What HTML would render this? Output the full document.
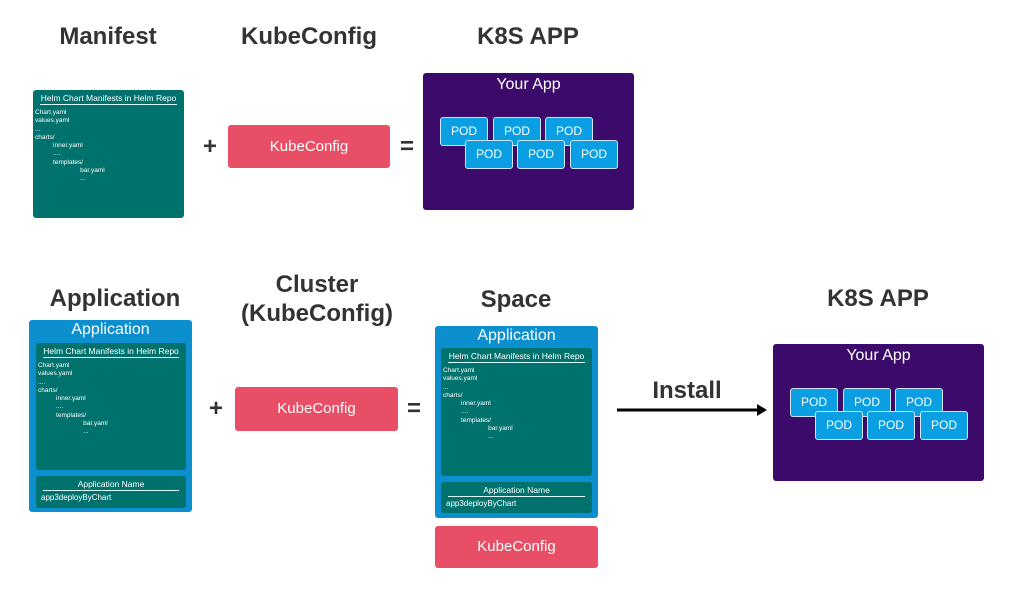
<!DOCTYPE html>
<html><head><meta charset="utf-8"><style>
body{margin:0;width:1024px;height:591px;background:#fff;position:relative;overflow:hidden;font-family:"Liberation Sans",Arial,sans-serif}
.a{position:absolute}
.h{position:absolute;font-weight:bold;font-size:24px;color:#333;text-align:center;transform:translateX(-50%);white-space:nowrap;line-height:29px}
.teal{position:absolute;background:#00726d;border-radius:3px;color:#fff}
.teal>.t{position:absolute;left:0;right:0;top:3px;text-align:center;font-size:8.5px;white-space:nowrap}
.teal>.ln{position:absolute;left:7px;right:7px;top:14px;height:1px;background:#dff}
.teal>.c{position:absolute;left:2px;top:19px;font-size:6.5px;line-height:8.3px;white-space:pre}
.red{position:absolute;background:#e84f66;border-radius:3px;color:#fff;text-align:center;font-size:15px}
.purple{position:absolute;background:#3c0a6b;border-radius:3px;color:#fff;width:211px;height:137px}
.purple>.t{position:absolute;top:3px;left:0;right:0;text-align:center;font-size:16px}
.pod{position:absolute;width:46px;height:27px;background:#0a9fe2;border:1px solid #cfe6f5;border-radius:3px;color:#fff;font-size:12px;text-align:center;line-height:27px}
.blue{position:absolute;background:#0b8fcf;border-radius:3px}
.blue>.t{position:absolute;top:1px;left:0;right:0;text-align:center;color:#fff;font-size:16px}
.op{position:absolute;font-weight:bold;font-size:24px;color:#333;transform:translate(-50%,-50%)}
</style></head><body>
<div class="h" style="left:108px;top:22px">Manifest</div>
<div class="h" style="left:309px;top:22px">KubeConfig</div>
<div class="h" style="left:528px;top:22px">K8S APP</div>

<div class="teal" style="left:33px;top:90px;width:151px;height:128px"><div class="t">Helm Chart Manifests in Helm Repo</div><div class="ln"></div><div class="c">Chart.yaml
values.yaml
...
charts/
          inner.yaml
          ....
          templates/
                         bar.yaml
                         ...</div></div>
<div class="op" style="left:210px;top:147px">+</div>
<div class="red" style="left:228px;top:125px;width:162px;height:43px;line-height:43px">KubeConfig</div>
<div class="op" style="left:407px;top:147px">=</div>
<div class="purple" style="left:423px;top:73px"><div class="t">Your App</div>
<div class="pod" style="left:17px;top:44px">POD</div><div class="pod" style="left:70px;top:44px">POD</div><div class="pod" style="left:122px;top:44px">POD</div>
<div class="pod" style="left:42px;top:67px">POD</div><div class="pod" style="left:94px;top:67px">POD</div><div class="pod" style="left:147px;top:67px">POD</div></div>

<div class="h" style="left:115px;top:284px">Application</div>
<div class="h" style="left:317px;top:270px">Cluster<br>(KubeConfig)</div>
<div class="h" style="left:516px;top:285px">Space</div>
<div class="h" style="left:878px;top:284px">K8S APP</div>

<div class="blue" style="left:29px;top:320px;width:163px;height:192px"><div class="t">Application</div>
<div class="teal" style="left:7px;top:23px;width:150px;height:127px"><div class="t">Helm Chart Manifests in Helm Repo</div><div class="ln"></div><div class="c">Chart.yaml
values.yaml
....
charts/
          inner.yaml
          ....
          templates/
                         bar.yaml
                         ...</div></div>
<div class="teal" style="left:7px;top:156px;width:150px;height:32px"><div class="t">Application Name</div><div class="ln"></div><div class="c" style="left:5px;top:18px;font-size:8px">app3deployByChart</div></div></div>

<div class="op" style="left:216px;top:409px">+</div>
<div class="red" style="left:235px;top:387px;width:163px;height:44px;line-height:44px">KubeConfig</div>
<div class="op" style="left:414px;top:409px">=</div>

<div class="blue" style="left:435px;top:326px;width:163px;height:192px"><div class="t">Application</div>
<div class="teal" style="left:6px;top:22px;width:151px;height:128px"><div class="t">Helm Chart Manifests in Helm Repo</div><div class="ln"></div><div class="c">Chart.yaml
values.yaml
...
charts/
          inner.yaml
          ....
          templates/
                         bar.yaml
                         ...</div></div>
<div class="teal" style="left:6px;top:156px;width:151px;height:31px"><div class="t">Application Name</div><div class="ln"></div><div class="c" style="left:5px;top:18px;font-size:8px">app3deployByChart</div></div></div>
<div class="red" style="left:435px;top:526px;width:163px;height:42px;line-height:42px">KubeConfig</div>

<div class="h" style="left:687px;top:376px">Install</div>
<svg class="a" style="left:610px;top:400px" width="160" height="20"><line x1="7" y1="10" x2="152" y2="10" stroke="#000" stroke-width="3"/><polygon points="147,4 157,10 147,16" fill="#000"/></svg>

<div class="purple" style="left:773px;top:344px"><div class="t">Your App</div>
<div class="pod" style="left:17px;top:44px">POD</div><div class="pod" style="left:70px;top:44px">POD</div><div class="pod" style="left:122px;top:44px">POD</div>
<div class="pod" style="left:42px;top:67px">POD</div><div class="pod" style="left:94px;top:67px">POD</div><div class="pod" style="left:147px;top:67px">POD</div></div>
</body></html>
